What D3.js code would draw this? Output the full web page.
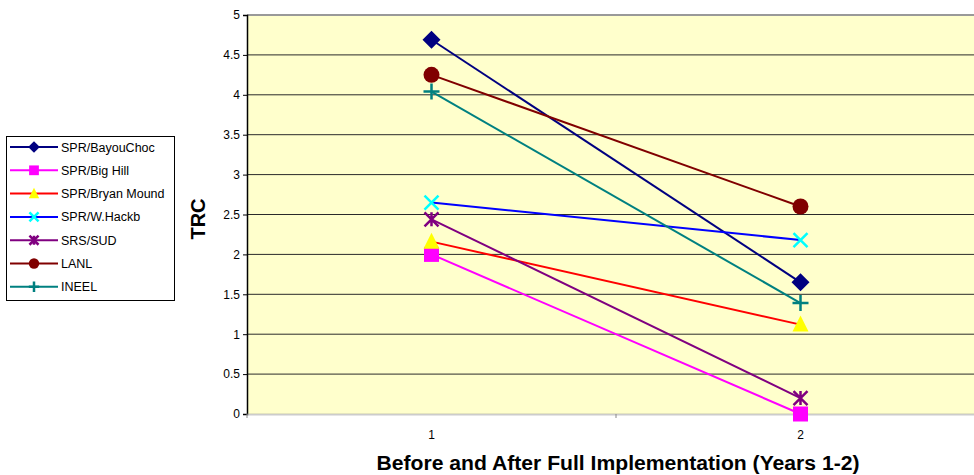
<!DOCTYPE html>
<html><head><meta charset="utf-8">
<script src="https://cdn.jsdelivr.net/npm/d3@7"></script>
<style>body{margin:0;background:#fff;}svg{display:block;font-family:Arial,"Liberation Sans",sans-serif;}</style>
</head><body>
<svg id="c" width="974" height="475"></svg>
<script>
const categories = ["1", "2"];
const seriesNames = ["SPR/BayouChoc","SPR/Big Hill","SPR/Bryan Mound","SPR/W.Hackb","SRS/SUD","LANL","INEEL"];
const bayouChoc = [4.69, 1.65];
const bigHill = [2.0, 0.0];
const bryanMound = [2.16, 1.12];
const wHackb = [2.65, 2.18];
const srsSud = [2.44, 0.2];
const lanl = [4.25, 2.6];
const ineel = [4.04, 1.39];
const yTicks = [0,0.5,1,1.5,2,2.5,3,3.5,4,4.5,5];

const seriesValues = [bayouChoc,bigHill,bryanMound,wHackb,srsSud,lanl,ineel];
const lineColors = ["#000080","#FF00FF","#FF0000","#0000FF","#800080","#800000","#008080"];
const markColors = ["#000080","#FF00FF","#FFFF00","#00FFFF","#800080","#800000","#008080"];
const markTypes = ["diamond","square","triangle","x","star","circle","plus"];

const svg = d3.select("#c");
const L = 247, R = 985, T = 15, B = 414;
const x = d3.scaleBand().domain(categories).range([L, R]);
const y = d3.scaleLinear().domain([0,5]).range([B, T]);

svg.append("rect").attr("x", L).attr("y", T).attr("width", R-L).attr("height", B-T).attr("fill", "#FFFFCC");

// gridlines
svg.append("g").selectAll("line").data(yTicks.filter(d=>d>0 && d<5)).join("line")
  .attr("x1", L).attr("x2", R).attr("y1", d=>y(d)).attr("y2", d=>y(d))
  .attr("stroke", "#2a2a2a").attr("stroke-width", 1);
svg.append("line").attr("x1", L).attr("x2", R).attr("y1", y(5)).attr("y2", y(5)).attr("stroke", "#999").attr("stroke-width", 2);

// y axis
const ya = svg.append("g").attr("transform", `translate(${L},0)`)
  .call(d3.axisLeft(y).tickValues(yTicks).tickFormat(d3.format("")).tickSize(4).tickPadding(3));
ya.select(".domain").attr("stroke", "#000").attr("stroke-width", 1.5);
ya.selectAll(".tick line").attr("stroke", "#000");
ya.selectAll("text").attr("font-size", 12).attr("fill", "#000").style("font-family","Arial,'Liberation Sans',sans-serif");

// x axis
const xa = svg.append("g").attr("transform", `translate(0,${B})`)
  .call(d3.axisBottom(x).tickSize(0).tickPadding(16));
xa.select(".domain").attr("stroke", "#999").attr("stroke-width", 2).attr("stroke-dasharray", "1,1");
xa.selectAll("text").attr("font-size", 12).attr("fill", "#000").style("font-family","Arial,'Liberation Sans',sans-serif");
svg.append("g").selectAll("line").data([L, L + x.step(), L + 2*x.step()]).join("line")
  .attr("x1", d=>d).attr("x2", d=>d).attr("y1", B).attr("y2", B+4).attr("stroke", "#888");

// titles
svg.append("text").attr("transform", `translate(205,219) rotate(-90)`).attr("text-anchor","middle")
  .attr("font-size", 20).attr("font-weight","bold").text("TRC");
svg.append("text").attr("x", 618).attr("y", 470).attr("text-anchor","middle")
  .attr("font-size", 20).attr("font-weight","bold")
  .attr("textLength", 483).attr("lengthAdjust", "spacingAndGlyphs")
  .text("Before and After Full Implementation (Years 1-2)");

function drawMarker(g, type, cx, cy, color, s) {
  s = s || 1;
  if (type === "diamond") {
    g.append("path").attr("d", `M${cx},${cy-9*s}L${cx+9*s},${cy}L${cx},${cy+9*s}L${cx-9*s},${cy}Z`).attr("fill", color);
  } else if (type === "square") {
    g.append("rect").attr("x", cx-7.5*s).attr("y", cy-7.5*s).attr("width", 15*s).attr("height", 15*s).attr("fill", color);
  } else if (type === "triangle") {
    g.append("path").attr("d", `M${cx},${cy-9*s}L${cx+8*s},${cy+7*s}L${cx-8*s},${cy+7*s}Z`).attr("fill", color);
  } else if (type === "x") {
    g.append("path").attr("d", `M${cx-7*s},${cy-7*s}L${cx+7*s},${cy+7*s}M${cx+7*s},${cy-7*s}L${cx-7*s},${cy+7*s}`).attr("stroke", color).attr("stroke-width", 2.5);
  } else if (type === "star") {
    g.append("path").attr("d", `M${cx-7*s},${cy-7*s}L${cx+7*s},${cy+7*s}M${cx+7*s},${cy-7*s}L${cx-7*s},${cy+7*s}M${cx},${cy-7*s}L${cx},${cy+7*s}`).attr("stroke", color).attr("stroke-width", 2.5);
  } else if (type === "circle") {
    g.append("circle").attr("cx", cx).attr("cy", cy).attr("r", 8*s).attr("fill", color);
  } else if (type === "plus") {
    g.append("path").attr("d", `M${cx-8*s},${cy}L${cx+8*s},${cy}M${cx},${cy-8*s}L${cx},${cy+8*s}`).attr("stroke", color).attr("stroke-width", 2.5);
  }
}

const line = d3.line().x((d,i)=>x(categories[i]) + x.bandwidth()/2).y(d=>y(d));
const plot = svg.append("g");
seriesValues.forEach((vals, si) => {
  plot.append("path").datum(vals).attr("d", line).attr("fill","none").attr("stroke", lineColors[si]).attr("stroke-width", 2);
});
seriesValues.forEach((vals, si) => {
  vals.forEach((v, i) => drawMarker(plot, markTypes[si], x(categories[i]) + x.bandwidth()/2, y(v), markColors[si], 1));
});

// legend
const lg = svg.append("g");
lg.append("rect").attr("x", 6.5).attr("y", 136.5).attr("width", 168).attr("height", 164).attr("fill","#fff").attr("stroke","#000").attr("stroke-width",1);
seriesNames.forEach((name, si) => {
  const ly = 147 + si*23.3;
  lg.append("line").attr("x1", 10).attr("x2", 58).attr("y1", ly).attr("y2", ly).attr("stroke", lineColors[si]).attr("stroke-width", 2);
  drawMarker(lg, markTypes[si], 34, ly, markColors[si], 0.65);
  lg.append("text").attr("x", 61).attr("y", ly+4.5).attr("font-size", 12.5).text(name);
});
</script>
</body></html>
